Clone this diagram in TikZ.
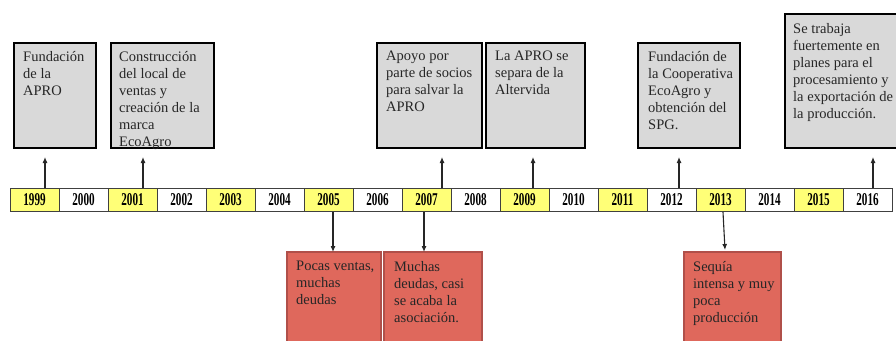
\documentclass[tikz,border=0pt]{standalone}
\usepackage{fontspec}
\setmainfont{Liberation Serif}
\usetikzlibrary{arrows.meta,calc}
\definecolor{boxgray}{HTML}{D9D9D9}
\definecolor{yel}{HTML}{FFFF77}
\definecolor{redfill}{HTML}{DF685C}
\definecolor{redline}{HTML}{B0504A}
\definecolor{cellline}{HTML}{404040}
\tikzset{
  topbox/.style={draw=black, line width=2.9pt, fill=boxgray, anchor=north west, inner sep=0pt, outer sep=0pt},
  redbox/.style={draw=redline, line width=1.8pt, fill=redfill, anchor=north west, inner sep=0pt, outer sep=0pt},
  txt/.style={anchor=north west, inner sep=0pt, align=left, font=\fontsize{14.5}{17}\selectfont, text=black!85},
  cellY/.style={draw=cellline, line width=1pt, fill=yel, minimum width=49pt, minimum height=23pt, inner sep=0pt, outer sep=0pt, anchor=north west, font=\fontsize{18}{18}\selectfont\bfseries},
  cellW/.style={cellY, fill=white},
  arr/.style={draw=black!85, line width=1.1pt, -{Latex[length=6pt,width=5pt]}}
}
\newcommand{\yr}[1]{\scalebox{0.62}[1]{#1}}
\begin{document}
\begin{tikzpicture}[x=1pt,y=-1pt]
\useasboundingbox (0,0) rectangle (896,340);
% timeline
\foreach \i in {0,...,17}{
  \pgfmathtruncatemacro{\y}{1999+\i}
  \pgfmathtruncatemacro{\odd}{mod(\i,2)}
  \ifnum\odd=0
    \node[cellY] (c\y) at (10+49*\i,188) {\yr{\y}};
  \else
    \node[cellW] (c\y) at (10+49*\i,188) {\yr{\y}};
  \fi
}
% top boxes
\node[topbox, minimum width=82pt, minimum height=105pt] (b1) at (14,43) {};
\node[txt] at ($(b1.north west)+(9,8)$) {Fundación\\de la\\APRO};
\node[topbox, minimum width=103pt, minimum height=105pt] (b2) at (111,43) {};
\node[txt] at ($(b2.north west)+(8,8)$) {Construcción\\del local de\\ventas y\\creación de la\\marca\\EcoAgro};
\node[topbox, minimum width=105pt, minimum height=105pt] (b3) at (377,43) {};
\node[txt] at ($(b3.north west)+(9,8)$) {Apoyo por\\parte de socios\\para salvar la\\APRO};
\node[topbox, minimum width=99pt, minimum height=105pt] (b4) at (486,43) {};
\node[txt] at ($(b4.north west)+(9,8)$) {La APRO se\\separa de la\\Altervida};
\node[topbox, minimum width=102pt, minimum height=105pt] (b5) at (638,43) {};
\node[txt] at ($(b5.north west)+(10,8)$) {Fundación de\\la Cooperativa\\EcoAgro y\\obtención del\\SPG.};
\node[topbox, minimum width=120pt, minimum height=134pt] (b6) at (785,14) {};
\node[txt] at ($(b6.north west)+(8,9)$) {Se trabaja\\fuertemente en\\planes para el\\procesamiento y\\la exportación de\\la producción.};
% bottom boxes
\node[redbox, minimum width=94pt, minimum height=100pt] (r1) at (287,252) {};
\node[txt] at ($(r1.north west)+(9,9)$) {Pocas ventas,\\muchas\\deudas};
\node[redbox, minimum width=98pt, minimum height=100pt] (r2) at (384,252) {};
\node[txt] at ($(r2.north west)+(10,9)$) {Muchas\\deudas, casi\\se acaba la\\asociación.};
\node[redbox, minimum width=97pt, minimum height=100pt] (r3) at (684,252) {};
\node[txt] at ($(r3.north west)+(9,9)$) {Sequía\\intensa y muy\\poca\\producción};
% up arrows
\coordinate (u1) at (45,157);
\coordinate (u2) at (143,157);
\coordinate (u3) at (442,157);
\coordinate (u4) at (533,157);
\coordinate (u5) at (679,157);
\coordinate (u6) at (873,157);
\draw[arr] (u1 |- c1999.north) -- (u1);
\draw[arr] (u2 |- c2001.north) -- (u2);
\draw[arr] (u3 |- c2007.north) -- (u3);
\draw[arr] (u4 |- c2009.north) -- (u4);
\draw[arr] (u5 |- c2012.north) -- (u5);
\draw[arr] (u6 |- c2016.north) -- (u6);
% down arrows
\coordinate (d1) at (333,212);
\coordinate (d2) at (424,212);
\coordinate (d3) at (723,212);
\coordinate (e3) at (725,250);
\draw[arr] (d1) -- (d1 |- r1.north);
\draw[arr] (d2) -- (d2 |- r2.north);
\draw[arr] (d3) -- (e3);
\end{tikzpicture}
\end{document}
